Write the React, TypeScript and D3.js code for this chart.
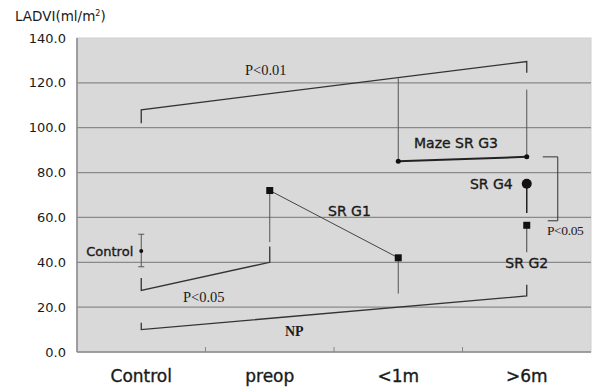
import React from "react";
import * as d3 from "d3";

const categories = ["Control", "preop", "<1m", ">6m"];
const yTicks = [0, 20, 40, 60, 80, 100, 120, 140];

// control group: mean with sd range
const control = { cat: "Control", v: 45, lo: 38, hi: 52.5 };
// SR G1 line
const srG1 = [
  { cat: "preop", v: 72, lo: 49 },
  { cat: "<1m", v: 42, lo: 26 },
];
// Maze SR G3 line
const mazeG3 = [
  { cat: "<1m", v: 85, hi: 122 },
  { cat: ">6m", v: 87, hi: 117 },
];
const srG4 = { cat: ">6m", v: 75, lo: 62 };
const srG2 = { cat: ">6m", v: 56.5, lo: 44.5 };

// significance brackets: start tick (a0 -> a1), sloped line, end tick (b0 -> b1)
const brackets = [
  { label: "P<0.01", from: "Control", a0: 102, a1: 108, to: ">6m", b0: 129.5, b1: 124.5 },
  { label: "P<0.05", from: "Control", a0: 33, a1: 27.5, to: "preop", b0: 40, b1: 47 },
  { label: "NP", from: "Control", a0: 13, a1: 10, to: ">6m", b0: 25, b1: 30 },
];
const rightBracket = { label: "P<0.05", top: 87, bottom: 58.5 };

const W = 596;
const H = 388;
const margin = { top: 38, right: 5, bottom: 36, left: 77 };

export default function App() {
  const x = d3
    .scaleBand()
    .domain(categories)
    .range([margin.left, W - margin.right]);
  const y = d3.scaleLinear().domain([0, 140]).range([H - margin.bottom, margin.top]);
  const cx = (c: string) => (x(c) as number) + x.bandwidth() / 2;
  const line = d3
    .line<[number, number]>()
    .x((d) => d[0])
    .y((d) => d[1]);

  const ink = "#333";
  const txt = "#1a1a1a";
  const serif = "'Liberation Serif', 'Times New Roman', serif";
  const sans = "'DejaVu Sans', Verdana, sans-serif";
  // slightly heavier sans text, like the original's gothic font
  const heavy = { stroke: txt, strokeWidth: 0.35 };

  const x6 = cx(">6m");

  return (
    <svg
      width={W}
      height={H}
      style={{ position: "absolute", left: 0, top: 0, background: "#fff" }}
    >
      <rect
        x={margin.left}
        y={margin.top}
        width={W - margin.right - margin.left}
        height={H - margin.bottom - margin.top}
        fill="#d9d9d9"
        stroke="#cfcfcf"
      />
      {yTicks.map((t) => (
        <g key={t}>
          {t > 0 && t < 140 && (
            <line
              x1={margin.left}
              x2={W - margin.right}
              y1={y(t)}
              y2={y(t)}
              stroke="#8a8a8a"
              strokeWidth={1.3}
            />
          )}
          <text
            x={margin.left - 11}
            y={y(t)}
            dy="0.35em"
            textAnchor="end"
            fontFamily={sans}
            fontSize={13}
            fill={txt}
          >
            {t.toFixed(1)}
          </text>
        </g>
      ))}
      <line x1={margin.left} x2={margin.left} y1={margin.top} y2={y(0)} stroke="#888" strokeWidth={1.5} />
      <line x1={margin.left} x2={W - margin.right} y1={y(0)} y2={y(0)} stroke="#888" strokeWidth={1.5} />
      {categories.slice(1).map((c) => (
        <line key={c} x1={x(c)} x2={x(c)} y1={y(0)} y2={y(0) - 5} stroke="#888" />
      ))}
      {categories.map((c) => (
        <text
          key={c}
          x={cx(c)}
          y={H - 6}
          textAnchor="middle"
          fontFamily={sans}
          fontSize={17}
          fill={txt}
          {...heavy}
        >
          {c}
        </text>
      ))}
      <text x={15} y={21} fontFamily={sans} fontSize={13.5} fill={txt}>
        LADVI(ml/m<tspan dy={-5} fontSize={8}>2</tspan>
        <tspan dy={5}>)</tspan>
      </text>

      {/* brackets */}
      {brackets.map((b) => (
        <path
          key={b.label}
          d={
            line([
              [cx(b.from), y(b.a0)],
              [cx(b.from), y(b.a1)],
              [cx(b.to), y(b.b0)],
              [cx(b.to), y(b.b1)],
            ]) as string
          }
          fill="none"
          stroke={ink}
          strokeWidth={1.3}
        />
      ))}
      <text x={245} y={75} fontFamily={serif} fontSize={14.5} fill={txt}>P&lt;0.01</text>
      <text x={183} y={302} fontFamily={serif} fontSize={14.5} fill={txt}>P&lt;0.05</text>
      <text x={285} y={336} fontFamily={serif} fontSize={14} fontWeight="bold" fill={txt}>NP</text>

      {/* right bracket G3 vs G2 */}
      <path
        d={line([
          [x6 + 16, y(rightBracket.top)],
          [x6 + 31, y(rightBracket.top)],
          [x6 + 31, y(rightBracket.bottom)],
          [x6 + 21, y(rightBracket.bottom)],
        ]) as string}
        fill="none"
        stroke={ink}
        strokeWidth={1}
      />
      <text x={547} y={235} fontFamily={serif} fontSize={13.5} fill={txt} letterSpacing={-0.4}>
        {rightBracket.label}
      </text>

      {/* error bars */}
      <line x1={cx(control.cat)} x2={cx(control.cat)} y1={y(control.lo)} y2={y(control.hi)} stroke="#555" />
      {[control.lo, control.hi].map((v, i) => (
        <line key={i} x1={cx(control.cat) - 3} x2={cx(control.cat) + 3} y1={y(v)} y2={y(v)} stroke="#555" />
      ))}
      {srG1.map((d) => (
        <line key={d.cat} x1={cx(d.cat)} x2={cx(d.cat)} y1={y(d.v)} y2={y(d.lo)} stroke="#555" />
      ))}
      {mazeG3.map((d) => (
        <line key={d.cat} x1={cx(d.cat)} x2={cx(d.cat)} y1={y(d.v)} y2={y(d.hi)} stroke="#555" />
      ))}
      <line x1={x6} x2={x6} y1={y(srG4.v)} y2={y(srG4.lo)} stroke="#222" strokeWidth={1.5} />
      <line x1={x6} x2={x6} y1={y(srG2.v)} y2={y(srG2.lo)} stroke="#444" strokeWidth={1} />

      {/* series lines */}
      <path
        d={line(srG1.map((d) => [cx(d.cat), y(d.v)])) as string}
        fill="none"
        stroke="#444"
        strokeWidth={1}
      />
      <path
        d={line(mazeG3.map((d) => [cx(d.cat), y(d.v)])) as string}
        fill="none"
        stroke="#222"
        strokeWidth={2}
      />

      {/* markers */}
      <circle cx={cx(control.cat)} cy={y(control.v)} r={2} fill="#111" />
      {srG1.map((d) => (
        <rect key={d.cat} x={cx(d.cat) - 3.5} y={y(d.v) - 3.5} width={7} height={7} fill="#111" />
      ))}
      {mazeG3.map((d) => (
        <circle key={d.cat} cx={cx(d.cat)} cy={y(d.v)} r={2.5} fill="#111" />
      ))}
      <circle cx={x6} cy={y(srG4.v)} r={5} fill="#111" />
      <rect x={x6 - 3.5} y={y(srG2.v) - 3.5} width={7} height={7} fill="#111" />

      {/* series labels */}
      <text x={cx(control.cat) - 8} y={y(control.v)} dy="0.35em" textAnchor="end" fontFamily={sans} fontSize={13} fill={txt} {...heavy}>Control</text>
      <text x={328} y={216} fontFamily={sans} fontSize={14} fill={txt} {...heavy}>SR G1</text>
      <text x={414} y={148} fontFamily={sans} fontSize={14} fill={txt} {...heavy}>Maze SR G3</text>
      <text x={x6 - 14} y={y(srG4.v)} dy="0.35em" textAnchor="end" fontFamily={sans} fontSize={14} fill={txt} {...heavy}>SR G4</text>
      <text x={x6} y={268} textAnchor="middle" fontFamily={sans} fontSize={14} fill={txt} {...heavy}>SR G2</text>
    </svg>
  );
}
